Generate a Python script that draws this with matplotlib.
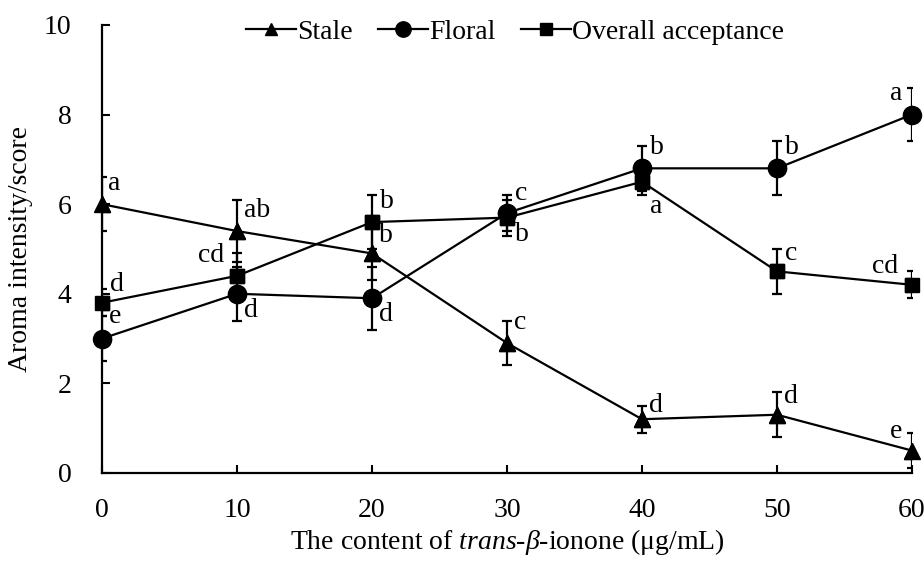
import matplotlib
matplotlib.use("Agg")
import matplotlib.pyplot as plt
from matplotlib.lines import Line2D

plt.rcParams['font.family'] = ['Liberation Serif', 'DejaVu Serif']
plt.rcParams['mathtext.fontset'] = 'custom'
plt.rcParams['mathtext.rm'] = 'Liberation Serif'
plt.rcParams['mathtext.it'] = 'Liberation Serif:italic'

x = [0, 10, 20, 30, 40, 50, 60]
stale = [6.0, 5.4, 4.9, 2.9, 1.2, 1.3, 0.5]
stale_err = [0.6, 0.7, 0.6, 0.5, 0.3, 0.5, 0.4]
stale_lbl = ['a', 'ab', 'b', 'c', 'd', 'd', 'e']
floral = [3.0, 4.0, 3.9, 5.8, 6.8, 6.8, 8.0]
floral_err = [0.5, 0.6, 0.7, 0.4, 0.5, 0.6, 0.6]
floral_lbl = ['e', 'd', 'd', 'c', 'b', 'b', 'a']
overall = [3.8, 4.4, 5.6, 5.7, 6.5, 4.5, 4.2]
overall_err = [0.3, 0.5, 0.6, 0.4, 0.3, 0.5, 0.3]
overall_lbl = ['d', 'cd', 'b', 'b', 'a', 'c', 'cd']

fig = plt.figure(figsize=(9.24, 5.61), dpi=100)
ax = fig.add_axes([0.1104, 0.1569, 0.8766, 0.7986])

FS = 20
series = [
    ('Stale', stale, stale_err, '^', 11),
    ('Floral', floral, floral_err, 'o', 13),
    ('Overall acceptance', overall, overall_err, 's', 10.5),
]
handles = []
for name, y, e, m, ms in series:
    ax.errorbar(x, y, yerr=e, color='black', lw=1.6, marker=m, ms=ms,
                capsize=3.8, capthick=1.6, elinewidth=1.6, clip_on=True)
    ax.plot(x, y, color='black', lw=0, marker=m, ms=ms, clip_on=False)
    handles.append(Line2D([], [], color='black', lw=1.6, marker=m, ms=ms * 0.85, label=name))

# offsets (points) for significance letters
stale_off = [(4, 6), (5, 6), (5, 4), (5, 6), (5, 1), (5, 4), (-16, 5)]
floral_off = [(5, 7), (5, -21), (5, -21), (6, 5), (6, 6), (6, 6), (-16, 6)]
overall_off = [(6, 4), (-28, 6), (6, 6), (6, -21), (6, -27), (6, 4), (-29, 4)]
for y, lbls, offs in [(stale, stale_lbl, stale_off), (floral, floral_lbl, floral_off),
                      (overall, overall_lbl, overall_off)]:
    for xi, yi, t, o in zip(x, y, lbls, offs):
        ax.annotate(t, (xi, yi), xytext=o, textcoords='offset points',
                    fontsize=FS, ha='left', va='bottom', annotation_clip=False)

ax.set_xlim(0, 60)
ax.set_ylim(0, 10)
ax.set_xticks(x)
ax.set_yticks([0, 2, 4, 6, 8, 10])
ax.tick_params(direction='in', length=6, width=1.5, labelsize=FS)
ax.tick_params(axis='x', pad=18)
ax.tick_params(axis='y', pad=22)
for s in ['top', 'right']:
    ax.spines[s].set_visible(False)
for s in ['left', 'bottom']:
    ax.spines[s].set_linewidth(1.6)

ax.set_ylabel('Aroma intensity/score', fontsize=FS, labelpad=8)
ax.set_xlabel(r'The content of $\it{trans}$-$\it{\beta}$-ionone (μg/mL)', fontsize=FS, labelpad=3)

leg = ax.legend(handles=handles, loc='lower center', bbox_to_anchor=(0.51, 0.93), ncol=3,
                frameon=False, fontsize=FS, handlelength=1.8, handletextpad=0.05,
                columnspacing=0.9, borderaxespad=0)

fig.savefig('out.png', dpi=100)
